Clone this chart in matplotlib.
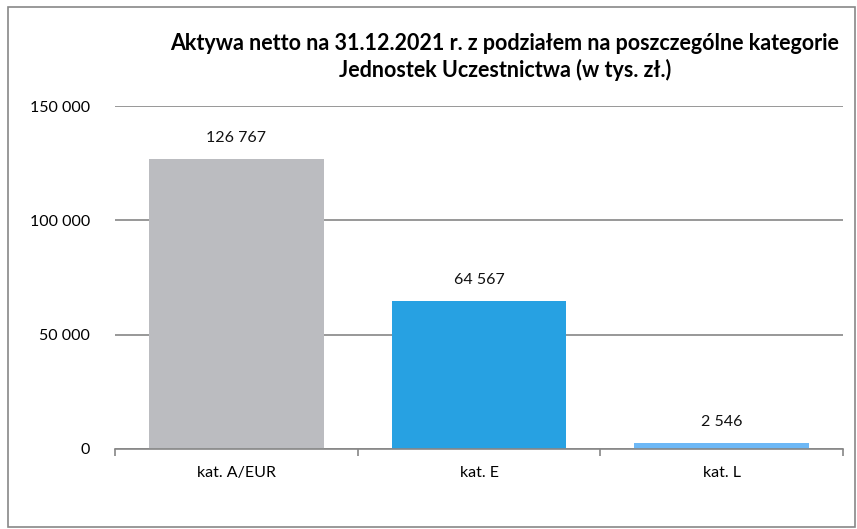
import matplotlib.pyplot as plt
from matplotlib.patches import Rectangle

categories = ['kat. A/EUR', 'kat. E', 'kat. L']
values = [126767, 64567, 2546]
colors = ['#BBBCC0', '#27A1E2', '#6DB8F6']
yticks = [0, 50000, 100000, 150000]

plt.rcParams['font.family'] = ['Lato', 'DejaVu Sans']


def fmt(v):
    return f'{v:,}'.replace(',', ' ')


fig = plt.figure(figsize=(8.57, 5.29), dpi=100)
ax = fig.add_axes([115 / 857, 1 - 449 / 529, (843 - 115) / 857, (449 - 106) / 529])

# Outer chart frame
fig.patches.append(Rectangle((8 / 857, 1 - 527 / 529), 847 / 857, 520 / 529,
                             transform=fig.transFigure, fill=False,
                             edgecolor='#888888', linewidth=1.2))

x = range(len(categories))
bars = ax.bar(x, values, width=0.72, color=colors, zorder=2)

for bar, v in zip(bars, values):
    ax.annotate(fmt(v), (bar.get_x() + bar.get_width() / 2, v),
                xytext=(0, 10), textcoords='offset points',
                ha='center', va='bottom', fontsize=11.5, color='#111111')

ax.set_xlim(-0.5, 2.5)
ax.set_ylim(0, 150000)
ax.set_yticks(yticks)
ax.set_yticklabels([fmt(t) for t in yticks], fontsize=11.5)
ax.yaxis.grid(True, color='#868686', linewidth=1.2, zorder=1)
ax.tick_params(axis='y', length=0, pad=18)

# Category ticks sit on the boundaries between groups
ax.set_xticks([-0.5, 0.5, 1.5, 2.5])
ax.set_xticklabels([])
ax.set_xticks(list(x), minor=True)
ax.set_xticklabels(categories, minor=True, fontsize=11.5)
ax.tick_params(axis='x', which='major', length=5, color='#868686', width=1.2)
ax.tick_params(axis='x', which='minor', length=0, pad=12)

for side in ['top', 'right', 'left']:
    ax.spines[side].set_visible(False)
ax.spines['bottom'].set_color('#868686')
ax.spines['bottom'].set_linewidth(1.2)

fig.text(505 / 857, 1 - 57 / 529,
         'Aktywa netto na 31.12.2021 r. z podziałem na poszczególne kategorie\n'
         'Jednostek Uczestnictwa (w tys. zł.)',
         ha='center', va='center', fontsize=15.5, fontweight='bold',
         linespacing=1.3)

fig.savefig('out.png', dpi=100)
